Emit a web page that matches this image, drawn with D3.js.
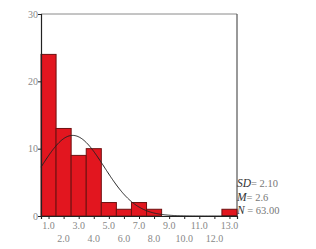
<!DOCTYPE html>
<html>
<head>
<meta charset="utf-8">
<script src="https://cdn.jsdelivr.net/npm/d3@7"></script>
<style>
  body { margin: 0; background: #fff; }
  svg text { font-family: "Liberation Serif", "DejaVu Serif", serif; }
</style>
</head>
<body>
<div id="chart"></div>
<script>
// bin centres and counts
const binCenters = [1, 2, 3, 4, 5, 6, 7, 8, 9, 10, 11, 12, 13];
const counts = [24, 13, 9, 10, 2, 1, 2, 1, 0, 0, 0, 0, 1];
const yTicks = [0, 10, 20, 30];
const xTicksTop = ["1.0", "3.0", "5.0", "7.0", "9.0", "11.0", "13.0"];
const xTicksBottom = ["2.0", "4.0", "6.0", "8.0", "10.0", "12.0"];
const statSD = 2.10;
const statM = 2.6;
const statN = 63;

const width = 316, height = 249;
const plotLeft = 41, plotRight = 237, plotTop = 14, plotBottom = 216;

const svg = d3.select("#chart").append("svg")
  .attr("width", width)
  .attr("height", height);

const x = d3.scaleLinear().domain([0.5, 13.5]).range([plotLeft, plotRight]);
const y = d3.scaleLinear().domain([0, 30]).range([plotBottom, plotTop]);

// frame
svg.append("line")
  .attr("x1", plotLeft).attr("x2", plotRight).attr("y1", plotTop).attr("y2", plotTop)
  .attr("stroke", "#8a8a8a").attr("stroke-width", 1);
svg.append("line")
  .attr("x1", plotRight).attr("x2", plotRight).attr("y1", plotTop).attr("y2", plotBottom)
  .attr("stroke", "#555").attr("stroke-width", 1.2);

// bars
svg.selectAll("rect.bar")
  .data(binCenters.map((c, i) => ({ c, n: counts[i] })).filter(d => d.n > 0))
  .join("rect")
  .attr("class", "bar")
  .attr("x", d => x(d.c - 0.5))
  .attr("y", d => y(d.n))
  .attr("width", d => x(d.c + 0.5) - x(d.c - 0.5))
  .attr("height", d => y(0) - y(d.n))
  .attr("fill", "#e2161f")
  .attr("stroke", "#6e1010")
  .attr("stroke-width", 1);

// normal curve from the printed M, SD and N (bin width 1)
const curveXs = d3.range(0.5, 13.51, 0.05);
const curve = d3.line()
  .x(v => x(v))
  .y(v => y(statN / (statSD * Math.sqrt(2 * Math.PI)) * Math.exp(-0.5 * ((v - statM) / statSD) ** 2)));
svg.append("path")
  .attr("d", curve(curveXs))
  .attr("fill", "none")
  .attr("stroke", "#222")
  .attr("stroke-width", 1);

// y axis
const yAxis = svg.append("g")
  .attr("transform", `translate(${plotLeft},0)`)
  .call(d3.axisLeft(y).tickValues(yTicks).tickSize(3).tickFormat(d3.format("d")));
yAxis.select(".domain").attr("stroke", "#222").attr("stroke-width", 1.2);
yAxis.selectAll(".tick line").attr("stroke", "#222");
yAxis.selectAll("text").attr("fill", "#888").attr("font-size", 10).attr("x", -3);

// x axis
const xAxis = svg.append("g")
  .attr("transform", `translate(0,${plotBottom})`)
  .call(d3.axisBottom(x).tickValues(binCenters).tickSize(3).tickFormat(""));
xAxis.select(".domain").attr("stroke", "#222").attr("stroke-width", 1.2);
xAxis.selectAll(".tick line").attr("stroke", "#222");

svg.append("g").selectAll("text")
  .data(xTicksTop)
  .join("text")
  .attr("x", d => x(+d))
  .attr("y", 229)
  .attr("text-anchor", "middle")
  .attr("fill", "#888")
  .attr("font-size", 10)
  .text(d => d);

svg.append("g").selectAll("text")
  .data(xTicksBottom)
  .join("text")
  .attr("x", d => x(+d))
  .attr("y", 242)
  .attr("text-anchor", "middle")
  .attr("fill", "#888")
  .attr("font-size", 10)
  .text(d => d);

// statistics
const stats = [
  { k: "SD", v: "= " + statSD.toFixed(2) },
  { k: "M", v: "= " + statM.toFixed(1) },
  { k: "N", v: " = " + statN.toFixed(2) }
];
svg.append("g").selectAll("text")
  .data(stats)
  .join("text")
  .attr("x", 237)
  .attr("y", (d, i) => 187 + i * 13.5)
  .attr("font-size", 10.5)
  .attr("fill", "#777")
  .each(function(d) {
    const t = d3.select(this);
    t.append("tspan").attr("font-style", "italic").attr("fill", "#333").attr("font-size", 11.5).text(d.k);
    t.append("tspan").text(d.v);
  });
</script>
</body>
</html>
